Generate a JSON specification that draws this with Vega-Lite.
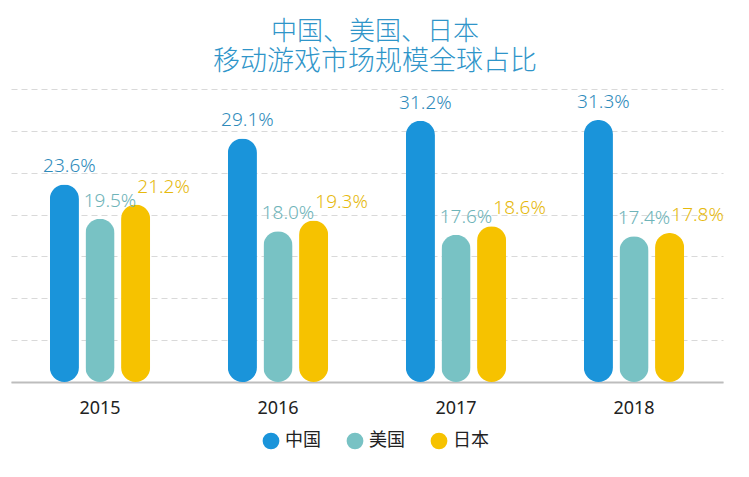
{
  "$schema": "https://vega.github.io/schema/vega-lite/v6.json",
  "width": 712,
  "height": 293,
  "autosize": {"type": "none"},
  "padding": {"left": 11, "right": 26, "top": 89, "bottom": 95},
  "background": "#ffffff",
  "title": {
    "text": "中国、美国、日本",
    "subtitle": "移动游戏市场规模全球占比",
    "font": "Noto Sans CJK SC",
    "subtitleFont": "Noto Sans CJK SC",
    "fontSize": 26,
    "subtitleFontSize": 27,
    "fontWeight": 300,
    "subtitleFontWeight": 300,
    "color": "#2f95c9",
    "subtitleColor": "#2f95c9",
    "subtitlePadding": 4,
    "anchor": "middle",
    "dx": 8,
    "offset": 14
  },
  "config": {
    "view": {"stroke": null},
    "font": "Noto Sans"
  },
  "data": {
    "values": [
      {"year": "2015", "country": "中国", "value": 23.6},
      {"year": "2015", "country": "美国", "value": 19.5},
      {"year": "2015", "country": "日本", "value": 21.2},
      {"year": "2016", "country": "中国", "value": 29.1},
      {"year": "2016", "country": "美国", "value": 18.0},
      {"year": "2016", "country": "日本", "value": 19.3},
      {"year": "2017", "country": "中国", "value": 31.2},
      {"year": "2017", "country": "美国", "value": 17.6},
      {"year": "2017", "country": "日本", "value": 18.6},
      {"year": "2018", "country": "中国", "value": 31.3},
      {"year": "2018", "country": "美国", "value": 17.4},
      {"year": "2018", "country": "日本", "value": 17.8}
    ]
  },
  "transform": [
    {"calculate": "format(datum.value, '.1f') + '%'", "as": "label"}
  ],
  "encoding": {
    "x": {
      "field": "year",
      "type": "ordinal",
      "scale": {"paddingInner": 0.4, "paddingOuter": 0.2},
      "axis": {
        "title": null,
        "labelAngle": 0,
        "labelFontSize": 18,
        "labelColor": "#222222",
        "labelPadding": 17,
        "ticks": false,
        "domainColor": "#bdbdbd",
        "domainWidth": 2
      }
    },
    "xOffset": {
      "field": "country",
      "type": "nominal",
      "sort": ["中国", "美国", "日本"],
      "scale": {"paddingInner": 0.183, "paddingOuter": 0.0915}
    },
    "y": {
      "field": "value",
      "type": "quantitative",
      "scale": {"domain": [0, 35], "nice": false},
      "axis": {
        "title": null,
        "values": [0, 5, 10, 15, 20, 25, 30, 35],
        "labels": false,
        "ticks": false,
        "domain": false,
        "gridColor": "#d9d9d9",
        "gridDash": [6, 4],
        "gridWidth": 1
      }
    }
  },
  "layer": [
    {
      "mark": {"type": "bar", "cornerRadius": 14.5},
      "encoding": {
        "color": {
          "field": "country",
          "type": "nominal",
          "scale": {
            "domain": ["中国", "美国", "日本"],
            "range": ["#1a94da", "#78c2c4", "#f6c200"]
          },
          "legend": {
            "title": null,
            "orient": "none",
            "legendX": 251,
            "legendY": 343,
            "direction": "horizontal",
            "symbolType": "circle",
            "symbolSize": 280,
            "symbolStrokeWidth": 0,
            "symbolOpacity": 1,
            "labelFont": "Noto Sans CJK SC",
            "labelFontSize": 18,
            "labelColor": "#222222",
            "labelOffset": 5,
            "columnPadding": 25
          }
        }
      }
    },
    {
      "transform": [{"filter": "datum.country === '中国'"}],
      "mark": {"type": "text", "dx": 5, "dy": -12, "baseline": "alphabetic", "fontSize": 19, "fontWeight": 300, "color": "#2f8bbb"},
      "encoding": {"text": {"field": "label"}}
    },
    {
      "transform": [{"filter": "datum.country === '美国'"}],
      "mark": {"type": "text", "dx": 10, "dy": -12, "baseline": "alphabetic", "fontSize": 19, "fontWeight": 300, "color": "#6fb4b9"},
      "encoding": {"text": {"field": "label"}}
    },
    {
      "transform": [{"filter": "datum.country === '日本'"}],
      "mark": {"type": "text", "dx": 28, "dy": -12, "baseline": "alphabetic", "fontSize": 19, "fontWeight": 300, "color": "#e6b90d"},
      "encoding": {"text": {"field": "label"}}
    }
  ]
}
